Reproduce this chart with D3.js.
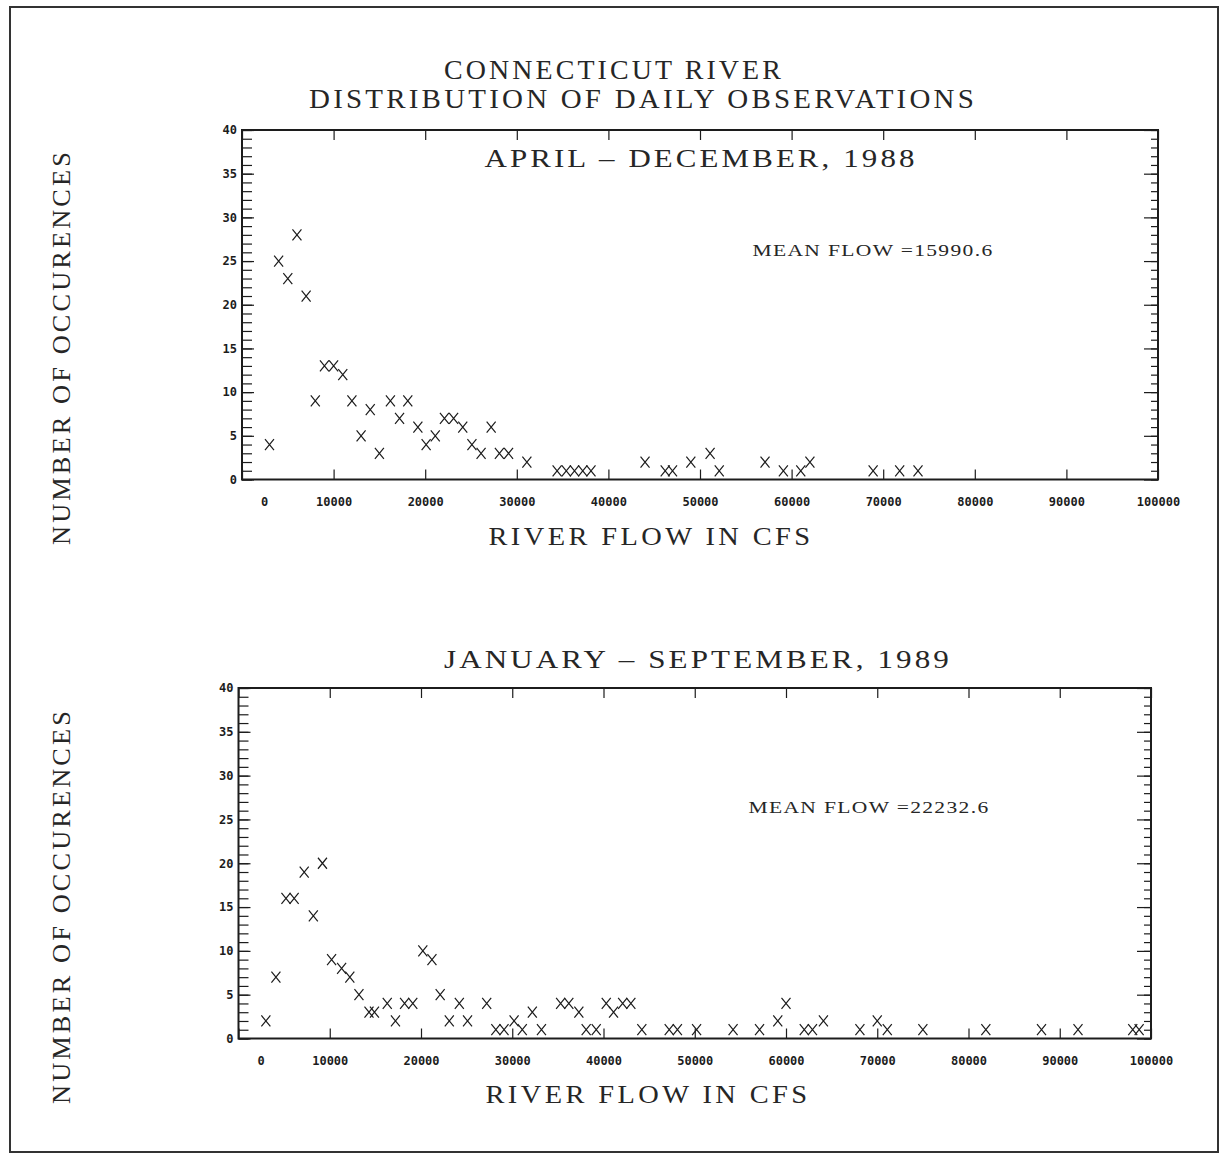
<!DOCTYPE html>
<html>
<head>
<meta charset="utf-8">
<script src="https://cdn.jsdelivr.net/npm/d3@7/dist/d3.min.js"></script>
<style>
  html, body { margin: 0; padding: 0; background: #fff; }
  svg { display: block; }
</style>
</head>
<body>
<svg id="chart" width="1230" height="1156"></svg>
<script>
// ---------------- DATA ----------------
const titleLines = ["CONNECTICUT RIVER", "DISTRIBUTION OF DAILY OBSERVATIONS"];
const panelTitles = ["APRIL  \u2013  DECEMBER, 1988", "JANUARY  \u2013  SEPTEMBER, 1989"];
const meanLabels = ["MEAN FLOW =15990.6", "MEAN FLOW =22232.6"];
const xAxisTitle = "RIVER FLOW IN CFS";
const yAxisTitle = "NUMBER OF OCCURENCES";

const xTicks = [0, 10000, 20000, 30000, 40000, 50000, 60000, 70000, 80000, 90000, 100000];
const yTicks = [0, 5, 10, 15, 20, 25, 30, 35, 40];

// April - December 1988
const flow1988 = [3000, 4000, 5000, 6000, 7000, 8000, 9000, 10000, 11000, 12000, 13000, 14000, 15000,
  16200, 17200, 18100, 19200, 20100, 21100, 22100, 23100, 24100, 25100, 26100, 27200, 28100, 29100,
  31100, 34400, 35400, 36300, 37200, 38100, 44000, 46200, 47000, 49000, 51100, 52100, 57100, 59100,
  61000, 62000, 68900, 71800, 73800];
const count1988 = [4, 25, 23, 28, 21, 9, 13, 13, 12, 9, 5, 8, 3,
  9, 7, 9, 6, 4, 5, 7, 7, 6, 4, 3, 6, 3, 3,
  2, 1, 1, 1, 1, 1, 2, 1, 1, 2, 3, 1, 2, 1,
  1, 2, 1, 1, 1];

// January - September 1989
const flow1989 = [3000, 4100, 5200, 6100, 7200, 8200, 9200, 10200, 11300, 12200, 13200, 14300, 14900,
  16300, 17200, 18200, 19100, 20200, 21200, 22100, 23100, 24200, 25100, 27200, 28200, 29100, 30200,
  31100, 32200, 33200, 35300, 36200, 37300, 38100, 39200, 40300, 41100, 42100, 43000, 44200, 47200,
  48100, 50200, 54200, 57100, 59100, 60000, 62000, 62900, 64100, 68100, 70000, 71100, 75000, 81900,
  88000, 92000, 98000, 98700];
const count1989 = [2, 7, 16, 16, 19, 14, 20, 9, 8, 7, 5, 3, 3,
  4, 2, 4, 4, 10, 9, 5, 2, 4, 2, 4, 1, 1, 2,
  1, 3, 1, 4, 4, 3, 1, 1, 4, 3, 4, 4, 1, 1,
  1, 1, 1, 1, 2, 4, 1, 1, 2, 1, 2, 1, 1, 1,
  1, 1, 1, 1];

// ---------------- LAYOUT ----------------
const INK = "#1c1c1c";
const svg = d3.select("#chart");

svg.append("rect")
  .attr("x", 10).attr("y", 7).attr("width", 1208).attr("height", 1145)
  .attr("fill", "none").attr("stroke", "#333").attr("stroke-width", 2);

const serif = "'Liberation Serif', 'Times New Roman', serif";
const mono = "'DejaVu Sans Mono', 'Liberation Mono', monospace";

function addText(txt, x, y, size, len, spacing, opts = {}) {
  const t = svg.append("text")
    .attr("x", x).attr("y", y)
    .attr("text-anchor", "middle")
    .attr("font-family", serif)
    .attr("font-size", size)
    .attr("letter-spacing", spacing)
    .attr("fill", "#262626")
    .attr("textLength", len)
    .attr("lengthAdjust", "spacingAndGlyphs")
    .text(txt);
  if (opts.rotate) t.attr("transform", `rotate(-90 ${x} ${y})`);
  return t;
}

addText(titleLines[0], 614, 78.5, 27, 340, 3);
addText(titleLines[1], 643, 107.5, 27, 668, 3);

const panels = [
  { left: 242, right: 1158, top: 130, bottom: 479.5, flows: flow1988, counts: count1988,
    title: panelTitles[0], titleX: 701, titleY: 167, titleLen: 433,
    mean: meanLabels[0], meanX: 873, meanY: 256,
    xTitleX: 651, xTitleY: 545, yTitleY: 347 },
  { left: 238.5, right: 1151, top: 688, bottom: 1038.5, flows: flow1989, counts: count1989,
    title: panelTitles[1], titleX: 698, titleY: 668, titleLen: 508,
    mean: meanLabels[1], meanX: 869, meanY: 813,
    xTitleX: 648, xTitleY: 1103, yTitleY: 906 }
];

panels.forEach(p => {
  const x = d3.scaleLinear().domain([0, 100000]).range([p.left, p.right]);
  const y = d3.scaleLinear().domain([0, 40]).range([p.bottom, p.top]);
  const g = svg.append("g");

  const bx = g.append("g").attr("transform", `translate(0,${p.bottom})`)
    .call(d3.axisBottom(x).tickValues(xTicks).tickSizeInner(-10).tickSizeOuter(0)
      .tickPadding(22).tickFormat(d3.format("d")));
  const tx = g.append("g").attr("transform", `translate(0,${p.top})`)
    .call(d3.axisTop(x).tickValues(xTicks).tickSizeInner(-10).tickSizeOuter(0).tickFormat(""));
  const lm = g.append("g").attr("transform", `translate(${p.left},0)`)
    .call(d3.axisLeft(y).tickValues(d3.range(0, 41)).tickSizeInner(-10).tickSizeOuter(0).tickFormat(""));
  const lM = g.append("g").attr("transform", `translate(${p.left},0)`)
    .call(d3.axisLeft(y).tickValues(yTicks).tickSizeInner(-12).tickSizeOuter(0).tickPadding(5)
      .tickFormat(d3.format("d")));
  const rm = g.append("g").attr("transform", `translate(${p.right},0)`)
    .call(d3.axisRight(y).tickValues(d3.range(0, 41)).tickSizeInner(-7).tickSizeOuter(0).tickFormat(""));
  const rM = g.append("g").attr("transform", `translate(${p.right},0)`)
    .call(d3.axisRight(y).tickValues(yTicks).tickSizeInner(-14).tickSizeOuter(0).tickFormat(""));

  [bx, tx, lm, lM, rm, rM].forEach(a => {
    a.select(".domain").remove();
    a.selectAll(".tick line").attr("stroke", INK).attr("stroke-width", 1.2);
    a.selectAll(".tick text")
      .attr("font-family", mono).attr("font-weight", "bold").attr("font-size", 12)
      .attr("fill", INK);
  });
  bx.selectAll(".tick text").filter(d => d === 0).attr("dx", 22);
  bx.selectAll(".tick text").attr("dy", "0.35em");

  g.append("rect")
    .attr("x", p.left).attr("y", p.top)
    .attr("width", p.right - p.left).attr("height", p.bottom - p.top)
    .attr("fill", "none").attr("stroke", INK).attr("stroke-width", 2);

  const pts = p.flows.map((f, i) => [f, p.counts[i]]);
  g.append("g").selectAll("path").data(pts).join("path")
    .attr("transform", d => `translate(${x(d[0])},${y(d[1])})`)
    .attr("d", "M-4.5,-5.5L4.5,5.5M-4.5,5.5L4.5,-5.5")
    .attr("fill", "none").attr("stroke", INK).attr("stroke-width", 1.2);

  addText(p.title, p.titleX, p.titleY, 25, p.titleLen, 2.5);
  addText(p.mean, p.meanX, p.meanY, 16, 241, 1);
  addText(xAxisTitle, p.xTitleX, p.xTitleY, 25, 325, 3);
  addText(yAxisTitle, 70, p.yTitleY, 25, 396, 3, { rotate: true });
});
</script>
</body>
</html>
